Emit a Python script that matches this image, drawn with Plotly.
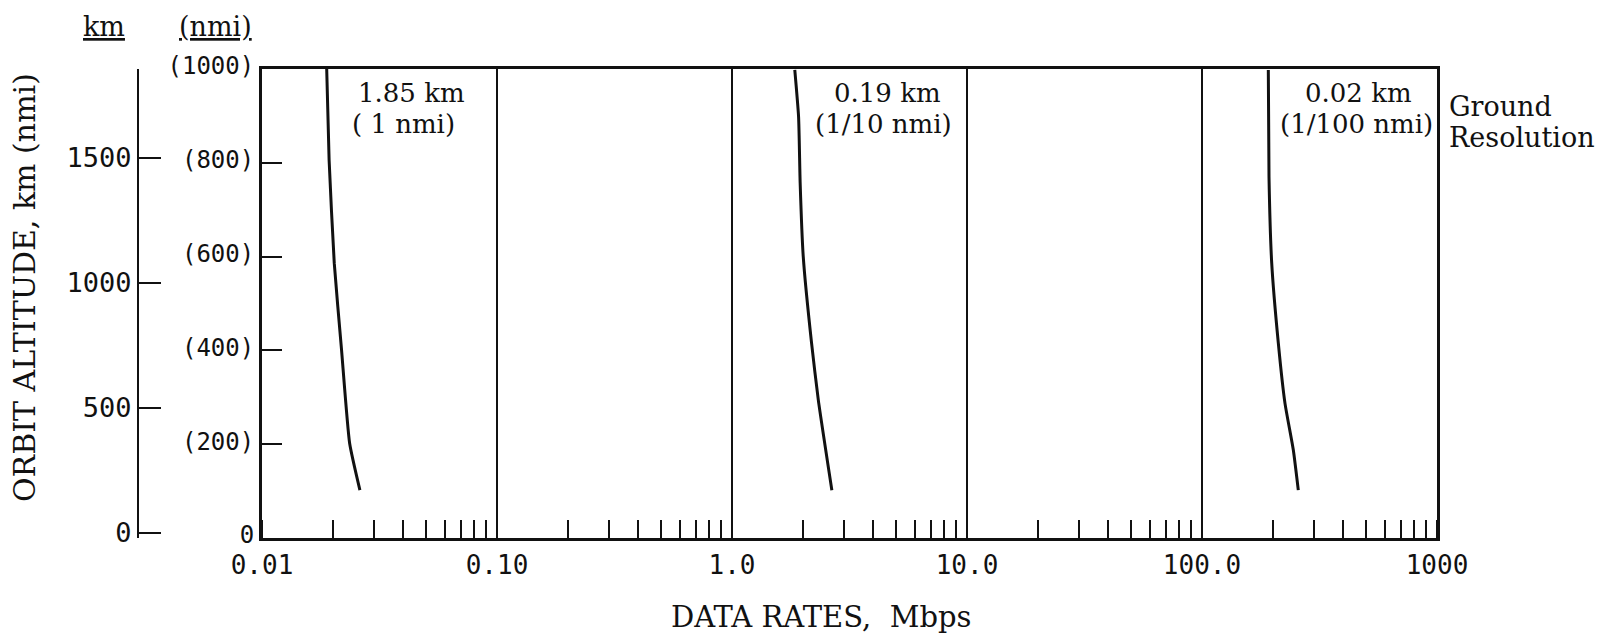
import plotly.graph_objects as go

# ---------------- data ----------------
# Ground resolution curves: data rate (Mbps) vs orbit altitude (nmi)
res_1nmi_rate = [0.01885, 0.0193, 0.0203, 0.0218, 0.0236, 0.0261]
res_1nmi_alt = [1000, 806, 586, 401, 202, 102]

res_10th_rate = [1.85, 1.92, 1.95, 2.01, 2.18, 2.33, 2.66]
res_10th_alt = [998, 898, 757, 600, 416, 294, 102]

res_100th_rate = [191.5, 192.8, 198.0, 211.2, 225.5, 244.6, 256.9]
res_100th_alt = [998, 770, 586, 416, 287, 188, 102]

x_tick_vals = [0.01, 0.1, 1, 10, 100, 1000]
x_tick_text = ["0.01", "0.10", "1.0", "10.0", "100.0", "1000"]

nmi_tick_vals = [0, 200, 400, 600, 800, 1000]
nmi_tick_text = ["0", "(200)", "(400)", "(600)", "(800)", "(1000)"]

km_tick_vals = [0, 500, 1000, 1500]
km_tick_text = ["0", "500", "1000", "1500"]

curve_labels = [("1.85 km", "( 1 nmi)"), ("0.19 km", "(1/10 nmi)"), ("0.02 km", "(1/100 nmi)")]

# ---------------- layout geometry ----------------
W, H = 1617, 639
ML, MR, MT, MB = 100, 180, 69, 101
PW = W - ML - MR
PH = H - MT - MB
PLOT_LEFT = 262

def xp(px):
    return (px - ML) / PW

def yp(py):
    return (H - MB - py) / PH

NUM_FONT = "DejaVu Sans Mono"
TXT_FONT = "DejaVu Serif"
BLACK = "#111111"

fig = go.Figure()
for rates, alts in [(res_1nmi_rate, res_1nmi_alt),
                    (res_10th_rate, res_10th_alt),
                    (res_100th_rate, res_100th_alt)]:
    fig.add_trace(go.Scatter(x=rates, y=alts, mode="lines",
                             line=dict(color=BLACK, width=3, shape="spline", smoothing=0.5),
                             showlegend=False, hoverinfo="skip"))
# invisible trace to attach the km axis
fig.add_trace(go.Scatter(x=[1], y=[0], yaxis="y2", mode="markers",
                         marker=dict(opacity=0), showlegend=False, hoverinfo="skip"))

fig.update_layout(
    width=W, height=H,
    margin=dict(l=ML, r=MR, t=MT, b=MB, pad=0),
    paper_bgcolor="white", plot_bgcolor="white",
    font=dict(family=NUM_FONT, color=BLACK),
    xaxis=dict(
        type="log", range=[-2, 3], domain=[xp(PLOT_LEFT), 1],
        tickvals=x_tick_vals, ticktext=x_tick_text,
        tickfont=dict(family=NUM_FONT, size=26, color=BLACK),
        ticks="", showgrid=True, gridcolor=BLACK, gridwidth=2,
        ticklabelstandoff=2,
        showline=True, linecolor=BLACK, linewidth=3, mirror=True,
        minor=dict(ticks="inside", ticklen=18, tickwidth=2, tickcolor=BLACK,
                   dtick="D1", showgrid=False),
        zeroline=False,
    ),
    yaxis=dict(
        range=[0, 1000], tickvals=nmi_tick_vals, ticktext=nmi_tick_text,
        tickfont=dict(family=NUM_FONT, size=24, color=BLACK),
        ticks="inside", ticklen=20, tickwidth=2, tickcolor=BLACK,
        ticklabelshift=-3,
        showgrid=False, zeroline=False,
        showline=True, linecolor=BLACK, linewidth=3, mirror=True,
    ),
    yaxis2=dict(
        overlaying="y", anchor="free", side="left", position=xp(138),
        range=[-20, 1856], tickvals=km_tick_vals, ticktext=km_tick_text,
        tickfont=dict(family=NUM_FONT, size=27, color=BLACK),
        ticks="inside", ticklen=22, tickwidth=2, tickcolor=BLACK,
        showgrid=False, zeroline=False,
        showline=True, linecolor=BLACK, linewidth=2,
    ),
)

ann = []
def add_text(text, px, py, size, xanchor="center", family=TXT_FONT, angle=0):
    ann.append(dict(text=text, x=xp(px), y=yp(py), xref="paper", yref="paper",
                    xanchor=xanchor, yanchor="middle", showarrow=False,
                    textangle=angle, font=dict(family=family, size=size, color=BLACK)))

# curve labels
label_pos = [(411, 403), (887, 883), (1358, 1356)]
for (l1, l2), (x1, x2) in zip(curve_labels, label_pos):
    add_text(l1, x1, 93, 26)
    add_text(l2, x2, 124, 26)

add_text("Ground", 1447, 106, 27, xanchor="left")
add_text("Resolution", 1447, 137, 27, xanchor="left")

add_text("<u>km</u>", 104, 27, 27)
add_text("<u>(nmi)</u>", 215, 27, 27)

add_text("ORBIT ALTITUDE, km (nmi)", 24, 288, 30, angle=-90)
add_text("DATA RATES,  Mbps", 821, 617, 29)

fig.update_layout(annotations=ann)

fig.write_html("out.html")
